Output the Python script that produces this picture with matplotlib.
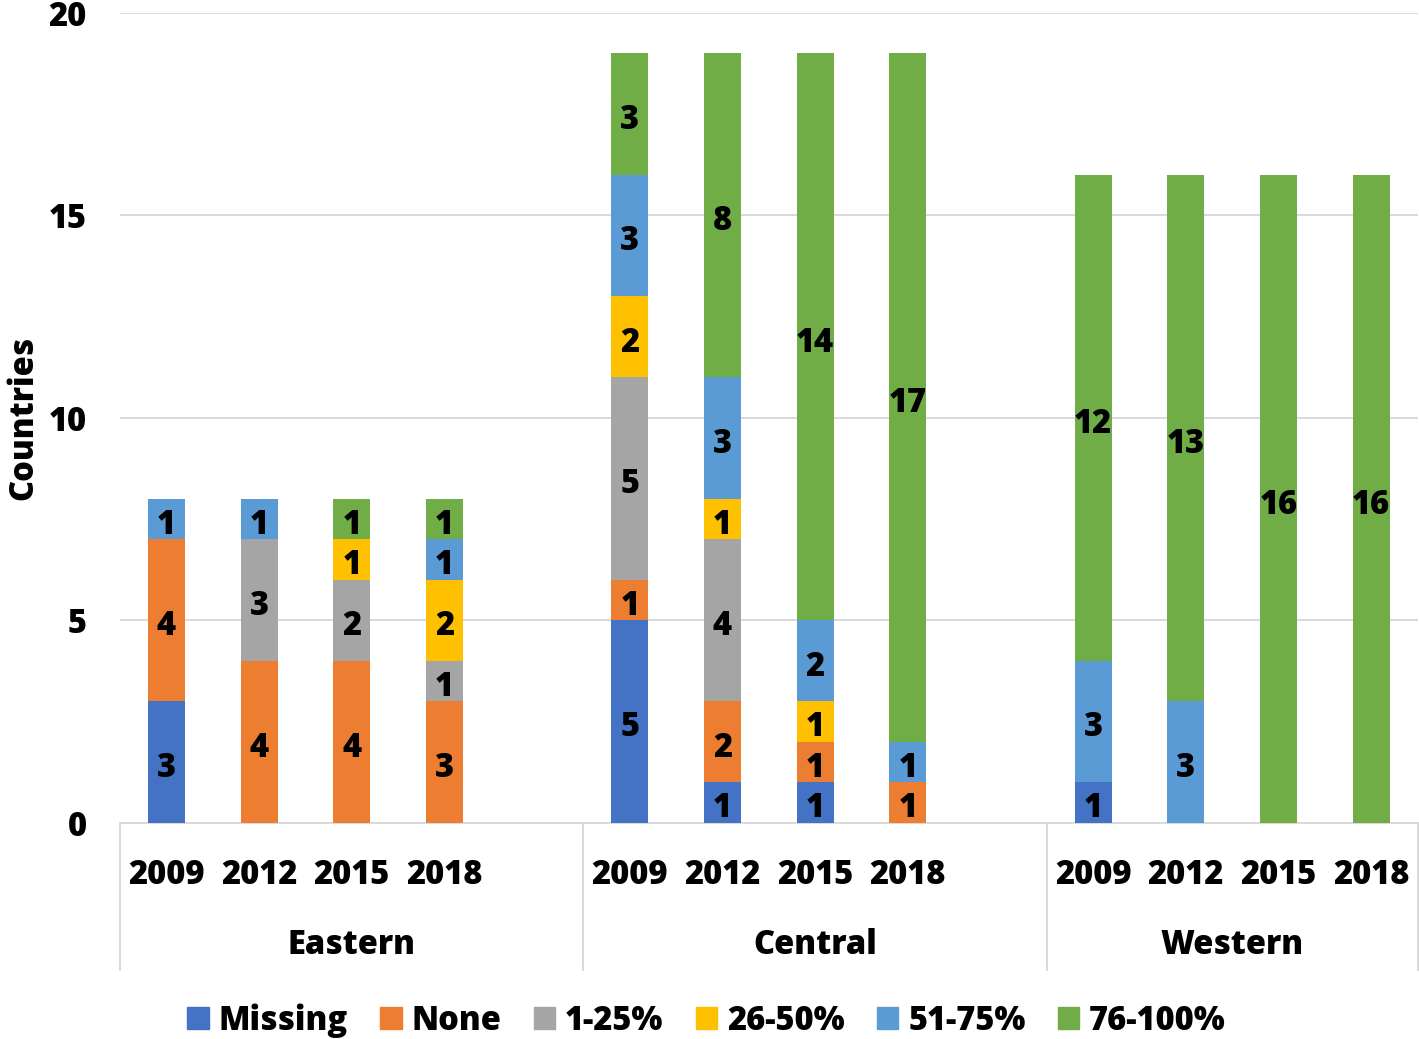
import numpy as np
import matplotlib
matplotlib.use("Agg")
import matplotlib.pyplot as plt
from matplotlib.patches import Patch
from matplotlib import rcParams

rcParams['font.family'] = ['Open Sans', 'DejaVu Sans']
rcParams['font.weight'] = 'heavy'

regions = ['Eastern', 'Central', 'Western']
years = ['2009', '2012', '2015', '2018']
categories = ['Missing', 'None', '1-25%', '26-50%', '51-75%', '76-100%']
colors = ['#4472C4', '#ED7D31', '#A5A5A5', '#FFC000', '#5B9BD5', '#70AD47']

# counts per bar: Eastern 2009..2018, Central 2009..2018, Western 2009..2018
missing = [3, 0, 0, 0, 5, 1, 1, 0, 1, 0, 0, 0]
none = [4, 4, 4, 3, 1, 2, 1, 1, 0, 0, 0, 0]
low = [0, 3, 2, 1, 5, 4, 0, 0, 0, 0, 0, 0]
mid = [0, 0, 1, 2, 2, 1, 1, 0, 0, 0, 0, 0]
high = [1, 1, 0, 1, 3, 3, 2, 1, 3, 3, 0, 0]
full = [0, 0, 1, 1, 3, 8, 14, 17, 12, 13, 16, 16]
series = [missing, none, low, mid, high, full]

# slot positions: 4 bars per region, one empty slot between regions
pos = np.array([0, 1, 2, 3, 5, 6, 7, 8, 10, 11, 12, 13])

fig = plt.figure(figsize=(14.19, 10.39), dpi=100)
ax = fig.add_axes([0.0846, 0.2079, 0.9144, 0.7796])

fs = 23.5
bottom = np.zeros(len(pos))
for vals, col in zip(series, colors):
    vals = np.array(vals)
    ax.bar(pos, vals, 0.4, bottom=bottom, color=col, zorder=3)
    for x, b, v in zip(pos, bottom, vals):
        if v > 0:
            ax.annotate(str(v), (x, b + v / 2), xytext=(0, -4),
                        textcoords='offset points', ha='center', va='center',
                        fontsize=fs, fontweight='heavy', zorder=4)
    bottom += vals

ax.set_xlim(-0.5, 13.5)
ax.set_ylim(0, 20)
ax.set_yticks([0, 5, 10, 15, 20])
ax.grid(axis='y', color='#D9D9D9', linewidth=1.4, zorder=0)
for s in ['top', 'right', 'left']:
    ax.spines[s].set_visible(False)
ax.spines['bottom'].set_color('#D9D9D9')
ax.spines['bottom'].set_linewidth(1.4)
ax.tick_params(axis='y', length=0, labelsize=fs, pad=24)
ax.tick_params(axis='x', length=0, labelsize=fs, pad=25)
ax.set_xticks(pos)
ax.set_xticklabels(years * 3)
ax.set_ylabel('Countries', fontsize=fs, fontweight='heavy', labelpad=6)

trans = ax.get_xaxis_transform()
for xs in [-0.5, 4.5, 9.5, 13.5]:
    ax.plot([xs, xs], [0, -0.1815], color='#D9D9D9', lw=1.4,
            transform=trans, clip_on=False)
for name, c in zip(regions, [2, 7, 11.5]):
    ax.text(c, -0.1506, name, ha='center', va='center', fontsize=fs,
            fontweight='heavy', transform=trans)

handles = [Patch(color=c, label=l) for c, l in zip(colors, categories)]
fig.legend(handles=handles, loc='center', bbox_to_anchor=(0.498, 0.018),
           ncol=6, frameon=False, fontsize=fs, handlelength=0.65,
           handleheight=0.65, handletextpad=0.3, columnspacing=1.0)

fig.savefig('out.png', dpi=100)
